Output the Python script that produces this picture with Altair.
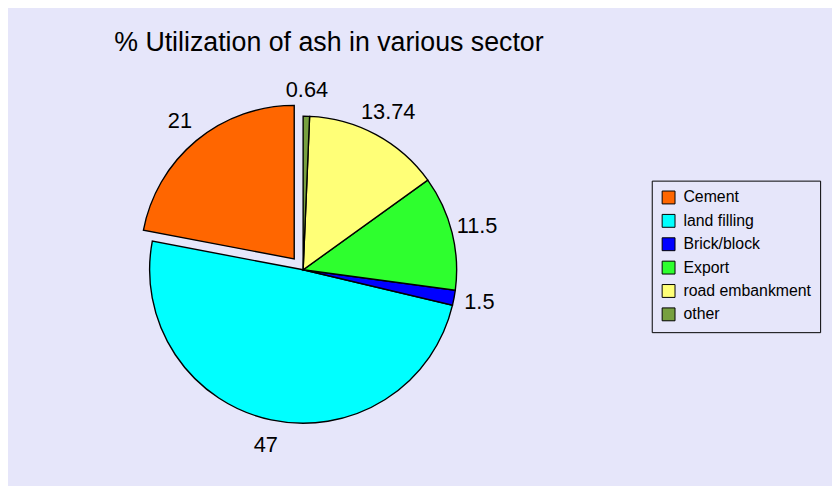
import altair as alt
import pandas as pd

# ---- data ----
sectors = ["Cement", "land filling", "Brick/block", "Export", "road embankment", "other"]
values = [21, 47, 1.5, 11.5, 13.74, 0.64]
labels = ["21", "47", "1.5", "11.5", "13.74", "0.64"]
colors = ["#FF6600", "#00FFFF", "#0000FF", "#2EFF2E", "#FFFF77", "#77A040"]
# the pie is drawn counter-clockwise from 12 o'clock in legend order,
# i.e. clockwise in the reverse order
draw_order = [len(sectors) - i for i in range(len(sectors))]

total = sum(values)
bg = "#E6E6FA"
FONT = "Liberation Sans"

df = pd.DataFrame({"sector": sectors, "value": values, "label": labels, "order": draw_order})

base = alt.Chart(df).transform_window(
    cum="sum(value)", sort=[alt.SortField("order")], frame=[None, 0]
).transform_calculate(
    start="datum.cum - datum.value",
    mid="datum.cum - datum.value / 2",
)

tscale = alt.Scale(domain=[0, total])

color = alt.Color(
    "sector:N",
    scale=alt.Scale(domain=sectors, range=colors),
    legend=alt.Legend(
        title=None,
        orient="none",
        legendX=650,
        legendY=92,
        strokeColor="black",
        fillColor=bg,
        padding=9,
        symbolType="square",
        symbolSize=169,
        symbolStrokeColor="black",
        symbolStrokeWidth=1,
        symbolOpacity=1,
        labelFont=FONT,
        labelFontSize=16,
        labelColor="black",
        rowPadding=5.6,
        labelOffset=7,
    ),
)

arc_props = dict(outerRadius=155, stroke="black", strokeWidth=1.4)
EX, EY = -9, -11  # explode offset of the Cement slice

rest = base.transform_filter("datum.sector != 'Cement'").mark_arc(**arc_props).encode(
    theta=alt.Theta("start:Q", scale=tscale),
    theta2="cum:Q",
    color=color,
)
cem = base.transform_filter("datum.sector == 'Cement'").mark_arc(
    xOffset=EX, yOffset=EY, **arc_props
).encode(
    theta=alt.Theta("start:Q", scale=tscale),
    theta2="cum:Q",
    color=color,
)

txt_props = dict(radius=181, font=FONT, fontSize=22, color="black", align="center", baseline="middle")
rest_txt = base.transform_filter("datum.sector != 'Cement'").mark_text(**txt_props).encode(
    theta=alt.Theta("mid:Q", scale=tscale),
    text="label:N",
)
cem_txt = base.transform_filter("datum.sector == 'Cement'").mark_text(
    xOffset=EX, yOffset=EY, **txt_props
).encode(
    theta=alt.Theta("mid:Q", scale=tscale),
    text="label:N",
)

chart = alt.layer(rest, cem, rest_txt, cem_txt).properties(
    width=596,
    height=364,
    padding={"left": 0, "top": 80, "right": 236, "bottom": 34},
    autosize=alt.AutoSizeParams(type="none"),
    background=bg,
    title=alt.TitleParams(
        "% Utilization of ash in various sector",
        font=FONT,
        fontSize=27,
        fontWeight="normal",
        color="black",
        anchor="middle",
        dx=26,
        offset=23,
    ),
).configure_view(strokeWidth=0)

chart.save("out.html", embed_options={"renderer": "svg", "actions": False})
